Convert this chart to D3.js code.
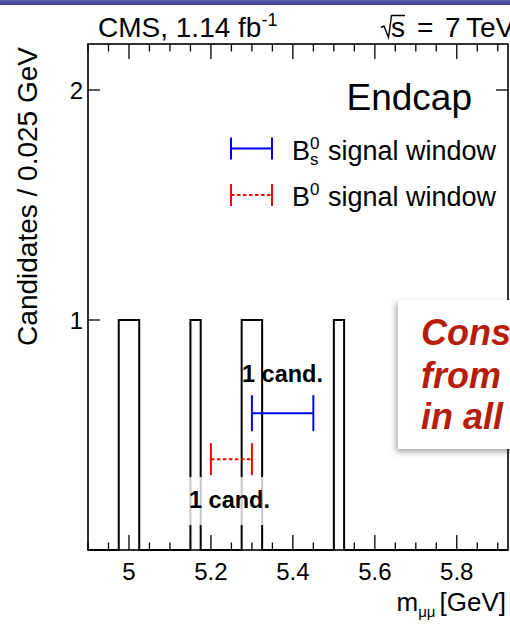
<!DOCTYPE html>
<html>
<head>
<meta charset="utf-8">
<script src="https://cdn.jsdelivr.net/npm/d3@7"></script>
<style>
  html, body { margin: 0; padding: 0; background: #fff; }
  svg { display: block; }
  text { font-family: "Liberation Sans", Arial, Helvetica, sans-serif; }
</style>
</head>
<body>
<svg id="chart" width="510" height="627"></svg>
<script>
// Dimuon invariant-mass histogram, endcap category
const binWidth = 0.025;
const massRange = [4.9, 5.925];
const candBinLow = [4.975, 5.0, 5.15, 5.275, 5.3, 5.5];   // lower edge of each filled bin
const candCounts = [1, 1, 1, 1, 1, 1];
const yRange = [0, 2.2];
const xMajorTicks = [5.0, 5.2, 5.4, 5.6, 5.8];
const xTickLabels = ["5", "5.2", "5.4", "5.6", "5.8"];
const yMajorTicks = [1, 2];
const yTickLabels = ["1", "2"];
// signal windows [low, high] in GeV
const bsWindow = [5.30, 5.45];
const bdWindow = [5.20, 5.30];
const windowLevel = { bs: 0.595, bd: 0.395 };   // drawn height, in candidates

const svg = d3.select("#chart");
const W = 510, H = 627;
const plot = { left: 88, right: 508, top: 44, bottom: 550 };

const x = d3.scaleLinear().domain(massRange).range([plot.left, plot.right]);
const y = d3.scaleLinear().domain(yRange).range([plot.bottom, plot.top]);

const defs = svg.append("defs");

// slide header band
const grad = defs.append("linearGradient")
  .attr("id", "hdr").attr("x1", 0).attr("x2", 0).attr("y1", 0).attr("y2", 1);
grad.append("stop").attr("offset", "0%").attr("stop-color", "#5a5fb4");
grad.append("stop").attr("offset", "100%").attr("stop-color", "#3d4298");
svg.append("rect").attr("x", 0).attr("y", 0).attr("width", W).attr("height", 5).attr("fill", "url(#hdr)");

// histogram contents
const nBins = Math.round((massRange[1] - massRange[0]) / binWidth);
const counts = new Array(nBins).fill(0);
candBinLow.forEach((lo, i) => {
  const k = Math.round((lo - massRange[0]) / binWidth);
  counts[k] += candCounts[i];
});
const steps = counts.map((c, i) => [massRange[0] + i * binWidth, c]);
steps.push([massRange[1], 0]);

const g = svg.append("g");

g.append("path")
  .attr("d", d3.line().x(d => x(d[0])).y(d => y(d[1])).curve(d3.curveStepAfter)(steps))
  .attr("fill", "none").attr("stroke", "#000").attr("stroke-width", 2);

// frame
g.append("rect")
  .attr("x", plot.left).attr("y", plot.top)
  .attr("width", plot.right - plot.left).attr("height", plot.bottom - plot.top)
  .attr("fill", "none").attr("stroke", "#000").attr("stroke-width", 1.6);

// x ticks (bottom and top, pointing inward)
const xMinor = d3.range(0, 21).map(i => +(massRange[0] + i * 0.05).toFixed(3))
  .filter(v => !xMajorTicks.some(m => Math.abs(m - v) < 1e-6));
const tickG = g.append("g").attr("stroke", "#000").attr("stroke-width", 1.3);
xMajorTicks.forEach(v => {
  tickG.append("line").attr("x1", x(v)).attr("x2", x(v)).attr("y1", plot.bottom).attr("y2", plot.bottom - 15);
  tickG.append("line").attr("x1", x(v)).attr("x2", x(v)).attr("y1", plot.top).attr("y2", plot.top + 15);
});
xMinor.forEach(v => {
  tickG.append("line").attr("x1", x(v)).attr("x2", x(v)).attr("y1", plot.bottom).attr("y2", plot.bottom - 7.5);
  tickG.append("line").attr("x1", x(v)).attr("x2", x(v)).attr("y1", plot.top).attr("y2", plot.top + 7.5);
});
yMajorTicks.forEach(v => {
  tickG.append("line").attr("x1", plot.left).attr("x2", plot.left + 12).attr("y1", y(v)).attr("y2", y(v));
  tickG.append("line").attr("x1", plot.right).attr("x2", plot.right - 12).attr("y1", y(v)).attr("y2", y(v));
});

// tick labels
xMajorTicks.forEach((v, i) => {
  g.append("text").attr("x", x(v)).attr("y", 580).attr("text-anchor", "middle")
    .attr("font-size", 24).text(xTickLabels[i]);
});
yMajorTicks.forEach((v, i) => {
  g.append("text").attr("x", 83).attr("y", y(v) + 8.6).attr("text-anchor", "end")
    .attr("font-size", 24).text(yTickLabels[i]);
});

// axis titles
const xt = g.append("text").attr("x", 506).attr("y", 611).attr("text-anchor", "end").attr("font-size", 26);
xt.append("tspan").text("m");
xt.append("tspan").attr("font-size", 15).attr("dy", 6).text("μμ");
xt.append("tspan").attr("dy", -6).attr("dx", 4).text("[GeV]");

g.append("text")
  .attr("transform", "translate(37,47) rotate(-90)")
  .attr("text-anchor", "end").attr("font-size", 28)
  .text("Candidates / 0.025 GeV");

// header texts
const cms = g.append("text").attr("x", 98).attr("y", 37).attr("font-size", 28);
cms.append("tspan").text("CMS, 1.14 fb");
cms.append("tspan").attr("font-size", 18).attr("dy", -11).text("-1");

// √s = 7 TeV, radical sign drawn as a path
g.append("path")
  .attr("d", "M381,27.5 L384,26 L388.5,37.5 L391.5,15.5 L405,15.5")
  .attr("fill", "none").attr("stroke", "#000").attr("stroke-width", 1.4);
g.append("text").attr("x", 391).attr("y", 37).attr("font-size", 28).text("s");
g.append("text").attr("x", 417).attr("y", 37).attr("font-size", 28).text("=");
g.append("text").attr("x", 445).attr("y", 37).attr("font-size", 28).text("7");
g.append("text").attr("x", 466).attr("y", 37).attr("font-size", 28).text("TeV");

// category label
g.append("text").attr("x", 472).attr("y", 110).attr("text-anchor", "end").attr("font-size", 37).text("Endcap");

// signal-window marker: horizontal bar with end caps
function windowMarker(parent, x0, x1, yc, half, color, dash) {
  const m = parent.append("g").attr("stroke", color).attr("stroke-width", 2).attr("fill", "none");
  m.append("line").attr("x1", x0).attr("x2", x1).attr("y1", yc).attr("y2", yc)
    .attr("stroke-dasharray", dash || null);
  m.append("line").attr("x1", x0).attr("x2", x0).attr("y1", yc - half).attr("y2", yc + half);
  m.append("line").attr("x1", x1).attr("x2", x1).attr("y1", yc - half).attr("y2", yc + half);
}

// legend
windowMarker(g, 231, 272, 148.5, 11, "#0000ff");
windowMarker(g, 231, 272, 195, 11, "#ff0000", "3.5,2.5");

function legendLabel(yb, sub) {
  g.append("text").attr("x", 292).attr("y", yb).attr("font-size", 27).text("B");
  g.append("text").attr("x", 310).attr("y", yb - 11).attr("font-size", 17).text("0");
  if (sub) g.append("text").attr("x", 310).attr("y", yb + 5).attr("font-size", 17).text(sub);
  g.append("text").attr("x", 328).attr("y", yb).attr("font-size", 27).text("signal window");
}
legendLabel(160, "s");
legendLabel(206, null);

// windows in the plot
windowMarker(g, x(bsWindow[0]), x(bsWindow[1]), y(windowLevel.bs), 18, "#0000ff");
windowMarker(g, x(bdWindow[0]), x(bdWindow[1]), y(windowLevel.bd), 16, "#ff0000", "3.5,2.5");

// candidate count labels
g.append("text").attr("x", 242).attr("y", 382).attr("font-size", 23.5).attr("font-weight", "bold").text("1 cand.");
g.append("rect").attr("x", 186).attr("y", 477).attr("width", 90).attr("height", 48)
  .attr("fill", "#fff").attr("fill-opacity", 0.78);
g.append("text").attr("x", 189).attr("y", 508).attr("font-size", 23.5).attr("font-weight", "bold").text("1 cand.");

// callout box overlapping the right edge
const flt = defs.append("filter").attr("id", "shadow")
  .attr("x", "-20%").attr("y", "-20%").attr("width", "140%").attr("height", "140%");
flt.append("feDropShadow").attr("dx", -2).attr("dy", 3).attr("stdDeviation", 3)
  .attr("flood-color", "#000").attr("flood-opacity", 0.35);
svg.append("rect").attr("x", 398).attr("y", 300).attr("width", 130).attr("height", 149)
  .attr("fill", "#fff").attr("filter", "url(#shadow)");
const callout = ["Cons", "from", "in all"];
const calloutY = [345, 388, 429];
callout.forEach((s, i) => {
  svg.append("text").attr("x", 421).attr("y", calloutY[i]).attr("font-size", 36)
    .attr("font-weight", "bold").attr("font-style", "italic").attr("fill", "#b61d0b").text(s);
});
</script>
</body>
</html>
